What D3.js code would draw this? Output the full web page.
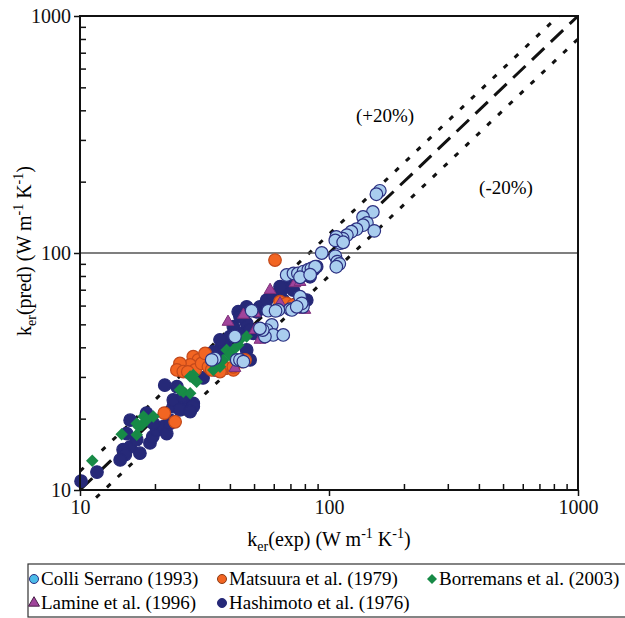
<!DOCTYPE html>
<html>
<head>
<meta charset="utf-8">
<script src="https://cdn.jsdelivr.net/npm/d3@7"></script>
<style>
body { margin: 0; background: #fff; }
</style>
</head>
<body>
<div id="chart"></div>
<script>
// [k_er(exp), k_er(pred)] pairs
var colliSerrano = [
    [160, 183], [155, 177], [150, 149], [137, 142], [142, 134], [152, 124], [137, 131], [129, 126],
    [123, 123], [118, 119], [113.5, 115], [107, 117], [111, 110], [106, 113], [114, 111], [93.5, 100],
    [106, 97], [108, 92], [110, 90], [107, 87.5],
    [67.6, 80.8], [72, 82], [75, 82], [79, 83.5], [82.6, 85], [85, 86], [88, 87.5], [76.5, 79], [84, 81],
    [76.5, 65.4], [78.6, 59.3], [77.7, 61.3], [69.7, 57.9], [62.6, 57.5], [57, 57.1], [48.9, 57.1],
    [61, 57], [71, 57.5], [74.2, 59.3],
    [58.9, 49.7], [56.2, 47.3], [59.7, 45.1], [65.5, 45.1], [55.3, 44.4], [54.2, 47.3], [52.8, 48.1],
    [41.9, 44.4], [34.8, 35.9], [33.8, 35.4], [42.6, 35.4], [43.9, 35.4], [45.3, 34.8]
];
var matsuura = [
    [60.7, 93.4], [28.5, 36.5], [29.9, 35.4], [27.7, 33.7], [25.2, 34.2], [24.5, 32.1], [26, 31.6],
    [29, 32.1], [30.8, 34.2], [32.8, 33.1], [33.8, 32.1], [37.1, 34.2], [38.2, 32.6], [41.3, 32.1],
    [31.8, 37.7], [21.8, 21.1], [24.1, 19.4], [63.6, 62.3], [66.6, 60.3], [67.6, 61.3], [71.9, 60.3],
    [35.4, 32.6], [36.5, 31.6], [46, 35.4], [44.6, 34.8], [41.3, 33.1], [27.1, 31.5]
];
var borremans = [
    [11.2, 13.3], [14.7, 17.2], [16.9, 17.1], [17.2, 18.5], [18, 20.4], [18.5, 19.7], [19.7, 20.4],
    [17.7, 18.8], [16.9, 19.1], [28.5, 29.6], [29.4, 28.6], [26, 26], [27.7, 25.6], [25.2, 26.4],
    [36.5, 33.1], [38.8, 39], [43.9, 43], [46.7, 44.4], [43.2, 40.9], [41.3, 39], [40, 37.1],
    [37.6, 35.4], [34.3, 32.1], [28.5, 30.6], [27.7, 30.1]
];
var lamine = [
    [73, 74.5], [76.5, 75.4], [45.3, 54.8], [50.4, 47.3], [80, 57.5], [52.8, 43], [63.6, 61.3],
    [50.4, 55.7], [41.9, 32.7], [39.3, 51.2], [58, 69.8]
];
var hashimoto = [
    [10.1, 10.9], [11.7, 11.9], [15.9, 19.7], [15.4, 17.3], [15.9, 15.2], [16.9, 16.3], [14.9, 14.8],
    [19.1, 15.8], [19.6, 16.8], [20.3, 17.9], [21.6, 18.5], [22.3, 17.3], [23, 19.7], [23.7, 22.5],
    [25.2, 22.5], [26.8, 23.2], [28.5, 23.2], [17.4, 14.3], [15.2, 14.1], [14.5, 13.4],
    [21.9, 27.7], [24.5, 27.3], [23.7, 24], [26, 24.8], [28.5, 22.5], [25.2, 21.8], [27.7, 21.4],
    [18.5, 21.1], [19.7, 19.1], [23, 19.1],
    [33.3, 36.5], [36.5, 39], [38.8, 40.2], [46.7, 39], [48.2, 35.4], [43.9, 45.8], [49.7, 45.8],
    [43.2, 56.5], [45.3, 54.8], [41.3, 48.9], [40, 44.4], [37.5, 41], [35.5, 37.8], [34.3, 38.3],
    [35.4, 35.4], [52.8, 59.3], [56.2, 63.3], [59.7, 66.5], [63.6, 67.6], [67.6, 72.1], [71.9, 74.5],
    [46.7, 50.5], [48.2, 47.3], [36.5, 43], [63.6, 72.1], [71.9, 69.8], [65.5, 63.3], [74.2, 61.3],
    [81.4, 63.3], [83.9, 79.4], [86.5, 84.8], [89.2, 87.5], [46.7, 59.3], [43.9, 53.9], [51.3, 56.5],
    [31.2, 29.7], [34.8, 32.1]
];

var majorTicks = [10, 100, 1000];
var minorTicks = [20, 30, 40, 50, 60, 70, 80, 90, 200, 300, 400, 500, 600, 700, 800, 900];
var refFactors = [1, 1.2, 0.8];
var refLabels = ["(+20%)", "(-20%)"];
var seriesNames = ["Colli Serrano (1993)", "Matsuura et al. (1979)", "Borremans et al. (2003)",
    "Lamine et al. (1996)", "Hashimoto et al. (1976)"];

var w = 625, h = 618;
var x0 = 80, x1 = 578, y0 = 490, y1 = 16;
var serif = "'Liberation Serif', 'Times New Roman', Times, 'Nimbus Roman', 'Noto Serif', 'DejaVu Serif', serif";

var svg = d3.select("#chart").append("svg").attr("width", w).attr("height", h)
    .style("font-family", serif);

var xScale = d3.scaleLog().domain([10, 1000]).range([x0, x1]);
var yScale = d3.scaleLog().domain([10, 1000]).range([y0, y1]);

// reference lines y = x, +20%, -20%
var dashes = ["17,9", "5,10", "5,10"];
refFactors.forEach(function (f, i) {
    var xa = f < 1 ? 11.6 : 10;
    var xb = Math.min(1000, 1000 / f);
    svg.append("line")
        .attr("x1", xScale(xa)).attr("y1", yScale(xa * f))
        .attr("x2", xScale(xb)).attr("y2", yScale(xb * f))
        .attr("stroke", "#111")
        .attr("stroke-width", 3)
        .attr("stroke-dasharray", dashes[i]);
});

// horizontal line at 100
svg.append("line")
    .attr("x1", x0).attr("x2", x1)
    .attr("y1", yScale(100)).attr("y2", yScale(100))
    .attr("stroke", "#555").attr("stroke-width", 1.5);

svg.append("text").attr("x", 385).attr("y", 122).attr("text-anchor", "middle")
    .style("font-family", serif).attr("font-size", "19px").text(refLabels[0]);
svg.append("text").attr("x", 506).attr("y", 194).attr("text-anchor", "middle")
    .style("font-family", serif).attr("font-size", "19px").text(refLabels[1]);

var navy = "#262978";
var r = 6.3;

function drawCircles(data, fill, stroke) {
    svg.append("g").selectAll("circle")
        .data(data)
        .enter()
        .append("circle")
        .attr("cx", function (d) { return xScale(d[0]); })
        .attr("cy", function (d) { return yScale(d[1]); })
        .attr("r", r)
        .attr("fill", fill)
        .attr("stroke", stroke)
        .attr("stroke-width", 1.2);
}

function drawSymbols(data, type, size, fill, stroke, rot) {
    svg.append("g").selectAll("path")
        .data(data)
        .enter()
        .append("path")
        .attr("d", d3.symbol().type(type).size(size))
        .attr("transform", function (d) {
            return "translate(" + xScale(d[0]) + "," + yScale(d[1]) + ") rotate(" + rot + ")";
        })
        .attr("fill", fill)
        .attr("stroke", stroke)
        .attr("stroke-width", stroke == "none" ? 0 : 1);
}

drawCircles(hashimoto, navy, navy);
drawCircles(matsuura, "#f26522", "#c2491b");
drawSymbols(borremans, d3.symbolSquare, 78, "#178a46", "none", 45);
drawSymbols(lamine, d3.symbolTriangle, 60, "#a0449b", "#7d2f79", 0);
drawCircles(colliSerrano, "#a9cdee", "#2b2f80");

// frame
svg.append("rect")
    .attr("x", x0).attr("y", y1)
    .attr("width", x1 - x0).attr("height", y0 - y1)
    .attr("fill", "none").attr("stroke", "#111").attr("stroke-width", 2);

// axes
function styleAxis(g) {
    g.select(".domain").remove();
    g.attr("font-family", null).attr("font-size", null);
    g.selectAll("line").attr("stroke", "#111").attr("stroke-width", 1.5);
    g.selectAll("text").attr("fill", "#111")
        .style("font-family", serif).style("font-size", "20px");
}

svg.append("g").attr("transform", "translate(0," + y0 + ")")
    .call(d3.axisBottom(xScale).tickValues(majorTicks).tickFormat(d3.format("d")).tickSize(6).tickPadding(4))
    .call(styleAxis);
svg.append("g").attr("transform", "translate(0," + y0 + ")")
    .call(d3.axisBottom(xScale).tickValues(minorTicks).tickFormat("").tickSize(-6))
    .call(styleAxis);
svg.append("g").attr("transform", "translate(" + x0 + ",0)")
    .call(d3.axisLeft(yScale).tickValues(majorTicks).tickFormat(d3.format("d")).tickSize(6).tickPadding(3))
    .call(styleAxis);
svg.append("g").attr("transform", "translate(" + x0 + ",0)")
    .call(d3.axisLeft(yScale).tickValues(minorTicks).tickFormat("").tickSize(-6))
    .call(styleAxis);

// axis titles
function unitTitle(sel, word) {
    sel.append("tspan").text("k");
    sel.append("tspan").attr("font-size", "14px").attr("dy", 5).text("er");
    sel.append("tspan").attr("dy", -5).text("(" + word + ") (W m");
    sel.append("tspan").attr("font-size", "14px").attr("dy", -8).text("-1");
    sel.append("tspan").attr("dy", 8).text(" K");
    sel.append("tspan").attr("font-size", "14px").attr("dy", -8).text("-1");
    sel.append("tspan").attr("dy", 8).text(")");
}

var xt = svg.append("text").attr("x", (x0 + x1) / 2).attr("y", 546)
    .attr("text-anchor", "middle").attr("font-size", "20px").style("font-family", serif);
unitTitle(xt, "exp");

var yt = svg.append("text")
    .attr("transform", "translate(31,251) rotate(-90)")
    .attr("text-anchor", "middle").attr("font-size", "20px").style("font-family", serif);
unitTitle(yt, "pred");

// legend
var legend = svg.append("g");
legend.append("rect")
    .attr("x", 28).attr("y", 564).attr("width", 620).attr("height", 53)
    .attr("fill", "none").attr("stroke", "#333").attr("stroke-width", 1.2);

var legX = [34, 222, 432, 34, 222];
var legY = [579, 579, 579, 603, 603];
var legFill = ["#4bbbe9", "#f26522", "#178a46", "#a0449b", navy];
var legStroke = ["#2b2f80", "#8a3a14", "none", "#4a1f48", navy];
var legShape = [d3.symbolCircle, d3.symbolCircle, d3.symbolSquare, d3.symbolTriangle, d3.symbolCircle];
var legSize = [64, 64, 50, 52, 64];
var legRot = [0, 0, 45, 0, 0];

seriesNames.forEach(function (name, i) {
    legend.append("path")
        .attr("d", d3.symbol().type(legShape[i]).size(legSize[i]))
        .attr("transform", "translate(" + legX[i] + "," + legY[i] + ") rotate(" + legRot[i] + ")")
        .attr("fill", legFill[i])
        .attr("stroke", legStroke[i])
        .attr("stroke-width", legStroke[i] == "none" ? 0 : 1);
    legend.append("text")
        .attr("x", legX[i] + 7)
        .attr("y", legY[i] + 6)
        .attr("font-size", "19px")
        .style("font-family", serif)
        .text(name);
});
</script>
</body>
</html>
